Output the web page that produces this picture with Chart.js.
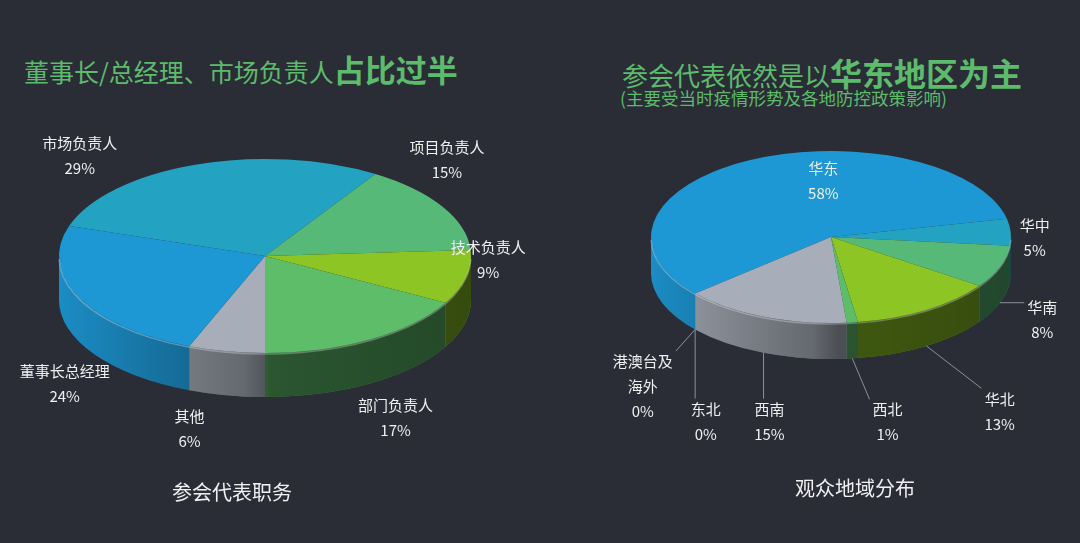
<!DOCTYPE html>
<html lang="zh">
<head>
    <meta charset="UTF-8">
    <title>参会代表职务 / 观众地域分布</title>
    <script src="https://cdn.jsdelivr.net/npm/chart.js@4.4.1/dist/chart.umd.min.js"></script>
    <style>
        html, body { margin: 0; padding: 0; }
        body {
            width: 1080px; height: 543px; overflow: hidden; position: relative;
            background: #2a2d36;
            font-family: 'Noto Sans CJK SC', 'Noto Sans', sans-serif;
        }
        .title { position: absolute; color: #5dbb6c; font-size: 26px; line-height: 40px; white-space: nowrap; }
        .title b { font-size: 31px; font-weight: 700; }
        .sub { position: absolute; color: #5dbb6c; font-size: 17.5px; line-height: 24px; white-space: nowrap; }
        .caption { position: absolute; color: #f0f0f0; font-size: 20px; line-height: 28px; width: 240px; text-align: center; }
        .box { position: absolute; }
    </style>
</head>
<body>
    <div class="title" style="left:24px; top:49px; font-size:25px;">董事长/总经理、市场负责人<b>占比过半</b></div>
    <div class="title" style="left:622px; top:52px;">参会代表依然是以<b style="font-size:32px">华东地区为主</b></div>
    <div class="sub" style="left:620px; top:86px;">(主要受当时疫情形势及各地防控政策影响)</div>

    <div class="box" style="left:0; top:0; width:530px; height:512px;"><canvas id="roleChart"></canvas></div>
    <div class="box" style="left:582px; top:0; width:498px; height:474px;"><canvas id="regionChart"></canvas></div>

    <div class="caption" style="left:112px; top:478px;">参会代表职务</div>
    <div class="caption" style="left:735px; top:474px;">观众地域分布</div>

    <script>
        // 参会代表职务 (%)
        const roleLabels = ['市场负责人', '项目负责人', '技术负责人', '部门负责人', '其他', '董事长总经理'];
        const roleValues = [29, 15, 9, 17, 6, 24];
        const roleColors = ['#23a3c1', '#57b977', '#8dc524', '#5dbd69', '#a7aeb9', '#1e98d5'];

        // 观众地域分布 (%)
        const regionLabels = ['华东', '华中', '华南', '华北', '西北', '西南', '东北', ['港澳台及', '海外']];
        const regionValues = [58, 5, 8, 13, 1, 15, 0, 0];
        const regionColors = ['#1e98d5', '#23a3c1', '#57b977', '#8dc524', '#5dbd69', '#a7aeb9', '#7a8290', '#7a8290'];

        // label nudges (px) from the default spot outside each slice
        const roleNudge = [[-105, 18], [-22, -32], [-8, -32], [10, 19], [-31, 10], [14, 57]];
        const regionNudge = [[85, 44], [-3, 7], [17, 33], [59, 52], [32, 42], [16, 51], [31, 90], [-32, 55]];

        const TWO_PI = Math.PI * 2;

        // parts of an arc that face the viewer (canvas angles 0..PI)
        function frontSpans(s, e) {
            const n = Math.floor(s / TWO_PI);
            s -= n * TWO_PI; e -= n * TWO_PI;
            const spans = [];
            [[0, Math.PI], [TWO_PI, TWO_PI + Math.PI]].forEach(([lo, hi]) => {
                const a = Math.max(s, lo), b = Math.min(e, hi);
                if (b > a) spans.push([a, b]);
            });
            return spans;
        }

        const pie3d = {
            id: 'pie3d',
            beforeDatasetDraw(chart, args, opts) {
                const arcs = args.meta.data;
                if (!arcs.length) return;
                const ctx = chart.ctx;
                const cx = arcs[0].x, cy = arcs[0].y;
                const rx = arcs[0].outerRadius, ry = rx * opts.tilt, d = opts.depth;
                ctx.save();
                this._saved = true;

                const shade = ctx.createLinearGradient(cx - rx, 0, cx + rx, 0);
                shade.addColorStop(0, 'rgba(0,0,0,0.08)');
                shade.addColorStop(0.45, 'rgba(0,0,0,0.40)');
                shade.addColorStop(0.52, 'rgba(0,0,0,0.55)');
                shade.addColorStop(1, 'rgba(0,0,0,0.62)');

                arcs.forEach(el => {
                    frontSpans(el.startAngle, el.endAngle).forEach(([a, b]) => {
                        ctx.beginPath();
                        ctx.ellipse(cx, cy, rx, ry, 0, a, b);
                        ctx.lineTo(cx + rx * Math.cos(b), cy + ry * Math.sin(b) + d);
                        ctx.ellipse(cx, cy + d, rx, ry, 0, b, a, true);
                        ctx.closePath();
                        ctx.fillStyle = el.options.backgroundColor;
                        ctx.fill();
                        ctx.fillStyle = shade;
                        ctx.fill();
                    });
                });

                // squash the top face into an ellipse
                ctx.translate(cx, cy);
                ctx.scale(1, opts.tilt);
                ctx.translate(-cx, -cy);
            },
            afterDatasetDraw(chart, args, opts) {
                if (!this._saved) return;
                this._saved = false;
                const ctx = chart.ctx;
                ctx.restore();
                const el = args.meta.data[0];
                const rx = el.outerRadius, ry = rx * opts.tilt;
                ctx.save();
                ctx.beginPath();
                ctx.ellipse(el.x, el.y + 1, rx, ry, 0, 0.02, Math.PI - 0.02);
                ctx.strokeStyle = 'rgba(255,255,255,0.28)';
                ctx.lineWidth = 1.5;
                ctx.stroke();
                ctx.restore();
            },
            afterDraw(chart, args, opts) {
                const ctx = chart.ctx;
                const meta = chart.getDatasetMeta(0);
                const arcs = meta.data;
                if (!arcs.length) return;
                const cx = arcs[0].x, cy = arcs[0].y;
                const rx = arcs[0].outerRadius, ry = rx * opts.tilt, d = opts.depth;
                const values = chart.data.datasets[0].data;
                const lineH = 25;
                ctx.save();
                ctx.font = '15px "Noto Sans CJK SC", sans-serif';
                ctx.textAlign = 'center';
                ctx.textBaseline = 'middle';
                arcs.forEach((el, i) => {
                    const mid = (el.startAngle + el.endAngle) / 2;
                    const c = Math.cos(mid), s = Math.sin(mid);
                    const nudge = opts.nudge[i] || [0, 0];
                    const lx = cx + c * rx * 1.15 + nudge[0];
                    const ly = cy + s * ry * 1.3 + d * 0.9 * Math.max(0, s) + nudge[1];
                    const name = chart.data.labels[i];
                    const lines = (Array.isArray(name) ? name : [name]).concat(values[i] + '%');
                    const w = Math.max(...lines.map(t => ctx.measureText(t).width));
                    const h = lines.length * lineH;

                    if (opts.leaders && s > 0.02) {
                        const ax = cx + rx * c, ay = cy + ry * s + d;
                        const bx = Math.min(Math.max(ax, lx - w / 2 - 3), lx + w / 2 + 3);
                        const by = Math.min(Math.max(ay, ly - h / 2 + 2), ly + h / 2);
                        ctx.beginPath();
                        ctx.moveTo(ax, ay);
                        ctx.lineTo(bx, by);
                        ctx.strokeStyle = '#8d9098';
                        ctx.lineWidth = 1;
                        ctx.stroke();
                    }

                    ctx.fillStyle = '#efefef';
                    lines.forEach((t, k) => {
                        ctx.fillText(t, lx, ly - (lines.length - 1) * lineH / 2 + k * lineH);
                    });
                });
                ctx.restore();
            }
        };

        function makePie(id, labels, values, colors, radius, rotation, p) {
            return new Chart(document.getElementById(id), {
                type: 'pie',
                data: {
                    labels: labels,
                    datasets: [{
                        data: values,
                        backgroundColor: colors,
                        borderWidth: 0,
                        radius: radius,
                        rotation: rotation,
                        clip: false
                    }]
                },
                options: {
                    responsive: true,
                    maintainAspectRatio: false,
                    animation: false,
                    events: [],
                    layout: { padding: 0 },
                    plugins: {
                        legend: { display: false },
                        tooltip: { enabled: false },
                        pie3d: p
                    }
                },
                plugins: [pie3d]
            });
        }

        makePie('roleChart', roleLabels, roleValues, roleColors, 206, 288,
            { tilt: 0.471, depth: 44, nudge: roleNudge, leaders: false });
        makePie('regionChart', regionLabels, regionValues, regionColors, 180, 229,
            { tilt: 0.478, depth: 36, nudge: regionNudge, leaders: true });
    </script>
</body>
</html>
